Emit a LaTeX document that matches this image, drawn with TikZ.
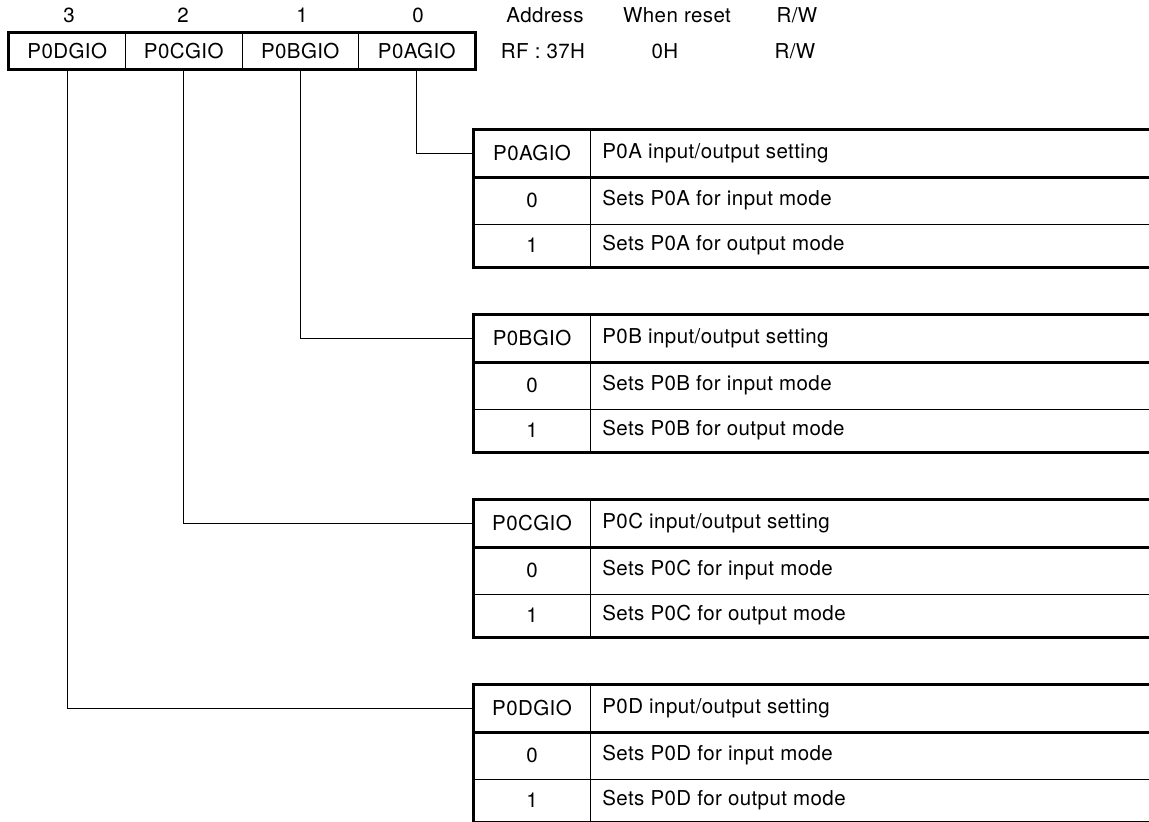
\documentclass[tikz,border=0pt]{standalone}
\usepackage{fontspec}
\setmainfont[LetterSpace=2.0]{TeX Gyre Heros}
\usepackage{tikz}
\usetikzlibrary{positioning, calc}

\begin{document}
\begin{tikzpicture}[x=1pt, y=-1pt,
  every node/.style={font=\fontsize{20.5}{24}\selectfont},
  regcell/.style={draw, line width=0.9pt, minimum width=116.5pt, minimum height=36pt, inner sep=0pt},
  keycell/.style={minimum width=116pt, minimum height=47pt, inner sep=0pt},
  desc/.style={anchor=west, inner xsep=12pt, inner ysep=0pt},
  thickline/.style={line width=2.8pt},
  thinline/.style={line width=0.9pt},
  wire/.style={line width=0.9pt}
]
  \useasboundingbox (0,0) rectangle (1149,822);
  \coordinate (edge) at (1149,0);

  % register
  \node[regcell] (r3) at (67.25,51) {P0DGIO};
  \node[regcell] (r2) at (183.75,51) {P0CGIO};
  \node[regcell] (r1) at (300.25,51) {P0BGIO};
  \node[regcell] (r0) at (416.75,51) {P0AGIO};
  \draw[thickline] (r3.north west) rectangle (r0.south east);
  \node (b3) at (69,15) {3};
  \node (b2) at (183,15) {2};
  \node (b1) at (302,15) {1};
  \node (b0) at (418,15) {0};

  \node (addr) at (545,15) {Address};
  \node (rst) at (677,15) {When reset};
  \node (rw) at (797,15) {R/W};
  \node (addrv) at (543,51) {RF : 37H};
  \node (rstv) at (665,51) {0H};
  \node (rwv) at (795,51) {R/W};

  % P0A table
  \node[keycell] (ka) at (532,153.5) {P0AGIO};
  \node[desc] (da) at (ka.east) {P0A input/output setting};
  \node[keycell] (ka0) at (532,200.5) {0};
  \node[desc] (da0) at (ka0.east) {Sets P0A for input mode};
  \node[keycell, minimum height=43pt] (ka1) at (532,245.5) {1};
  \node[desc] (da1) at (ka1.east) {Sets P0A for output mode};
  \draw[thickline] (ka.north west -| edge) -- (ka.north west) -- (ka1.south west) -- (ka1.south west -| edge);
  \draw[thickline] (ka.south west) -- (ka.south west -| edge);
  \draw[thinline] (ka0.south west) -- (ka0.south west -| edge);
  \draw[thinline] (ka.north east) -- (ka1.south east);

  % P0B table
  \node[keycell] (kb) at (532,338.5) {P0BGIO};
  \node[desc] (db) at (kb.east) {P0B input/output setting};
  \node[keycell] (kb0) at (532,385.5) {0};
  \node[desc] (db0) at (kb0.east) {Sets P0B for input mode};
  \node[keycell, minimum height=43pt] (kb1) at (532,430.5) {1};
  \node[desc] (db1) at (kb1.east) {Sets P0B for output mode};
  \draw[thickline] (kb.north west -| edge) -- (kb.north west) -- (kb1.south west) -- (kb1.south west -| edge);
  \draw[thickline] (kb.south west) -- (kb.south west -| edge);
  \draw[thinline] (kb0.south west) -- (kb0.south west -| edge);
  \draw[thinline] (kb.north east) -- (kb1.south east);

  % P0C table
  \node[keycell] (kc) at (532,523.5) {P0CGIO};
  \node[desc] (dc) at (kc.east) {P0C input/output setting};
  \node[keycell] (kc0) at (532,570.5) {0};
  \node[desc] (dc0) at (kc0.east) {Sets P0C for input mode};
  \node[keycell, minimum height=43pt] (kc1) at (532,615.5) {1};
  \node[desc] (dc1) at (kc1.east) {Sets P0C for output mode};
  \draw[thickline] (kc.north west -| edge) -- (kc.north west) -- (kc1.south west) -- (kc1.south west -| edge);
  \draw[thickline] (kc.south west) -- (kc.south west -| edge);
  \draw[thinline] (kc0.south west) -- (kc0.south west -| edge);
  \draw[thinline] (kc.north east) -- (kc1.south east);

  % P0D table
  \node[keycell] (kd) at (532,708.5) {P0DGIO};
  \node[desc] (dd) at (kd.east) {P0D input/output setting};
  \node[keycell] (kd0) at (532,755.5) {0};
  \node[desc] (dd0) at (kd0.east) {Sets P0D for input mode};
  \node[keycell, minimum height=43pt] (kd1) at (532,800.5) {1};
  \node[desc] (dd1) at (kd1.east) {Sets P0D for output mode};
  \draw[thickline] (kd.north west -| edge) -- (kd.north west) -- (kd1.south west) -- (kd1.south west -| edge);
  \draw[thickline] (kd.south west) -- (kd.south west -| edge);
  \draw[thinline] (kd0.south west) -- (kd0.south west -| edge);
  \draw[thinline] (kd.north east) -- (kd1.south east);

  % bit lines
  \draw[wire] (r0.south) |- (ka.west);
  \draw[wire] (r1.south) |- (kb.west);
  \draw[wire] (r2.south) |- (kc.west);
  \draw[wire] (r3.south) |- (kd.west);
\end{tikzpicture}
\end{document}
